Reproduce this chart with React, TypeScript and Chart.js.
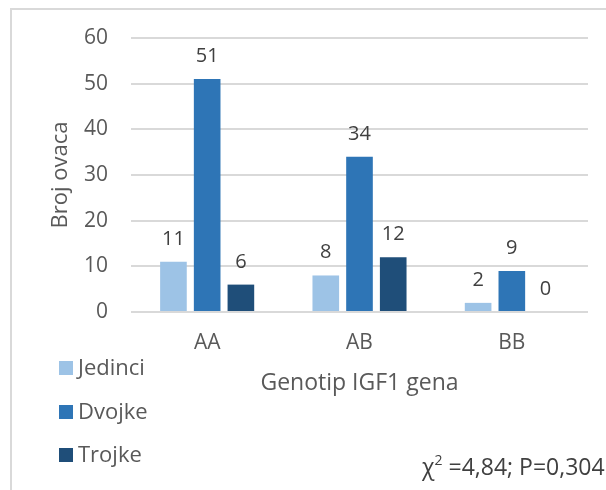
import React, { useEffect, useRef } from "react";
import { Chart, registerables } from "chart.js";

Chart.register(...registerables);

const categories = ["AA", "AB", "BB"];
const seriesNames = ["Jedinci", "Dvojke", "Trojke"];
const jedinci = [11, 8, 2];
const dvojke = [51, 34, 9];
const trojke = [6, 12, 0];
const colors = ["#9DC3E6", "#2E75B6", "#1F4E79"];
const yTicks = [0, 10, 20, 30, 40, 50, 60];
const yTitle = "Broj ovaca";
const xTitle = "Genotip IGF1 gena";
const statText = "=4,84; P=0,304";

const FONT = "'Open Sans', 'Noto Sans', sans-serif";

const decorPlugin = {
  id: "decor",
  beforeDraw(chart: any) {
    const ctx = chart.ctx;
    ctx.save();
    ctx.fillStyle = "#ffffff";
    ctx.fillRect(0, 0, chart.width, chart.height);
    ctx.fillStyle = "#d9d9d9";
    ctx.fillRect(10, 8, chart.width - 10, 2);
    ctx.fillRect(10, 8, 2, chart.height - 8);
    ctx.restore();
  },
  afterDatasetsDraw(chart: any) {
    const ctx = chart.ctx;
    ctx.save();
    ctx.font = `20px ${FONT}`;
    ctx.fillStyle = "#404040";
    ctx.textAlign = "center";
    ctx.textBaseline = "alphabetic";
    chart.data.datasets.forEach((ds: any, i: number) => {
      const meta = chart.getDatasetMeta(i);
      meta.data.forEach((el: any, j: number) => {
        ctx.fillText(String(ds.data[j]), el.x, el.y - 17);
      });
    });
    ctx.restore();
  },
  afterDraw(chart: any) {
    const ctx = chart.ctx;
    const area = chart.chartArea;
    ctx.save();
    ctx.fillStyle = "#595959";
    ctx.font = `22px ${FONT}`;
    ctx.save();
    ctx.translate(67, (area.top + area.bottom) / 2);
    ctx.rotate(-Math.PI / 2);
    ctx.textAlign = "center";
    ctx.textBaseline = "alphabetic";
    ctx.fillText(yTitle, 0, 0);
    ctx.restore();
    ctx.font = `23px ${FONT}`;
    ctx.textAlign = "center";
    ctx.textBaseline = "alphabetic";
    ctx.fillText(xTitle, (area.left + area.right) / 2, 390);
    ctx.font = `22px ${FONT}`;
    const ys = [368, 412, 455];
    seriesNames.forEach((n, i) => {
      ctx.fillStyle = colors[i];
      ctx.fillRect(59, ys[i] - 7, 14, 14);
      ctx.fillStyle = "#595959";
      ctx.textAlign = "left";
      ctx.textBaseline = "middle";
      ctx.fillText(n, 78, ys[i] + 1);
    });
    ctx.fillStyle = "#404040";
    ctx.textAlign = "left";
    ctx.textBaseline = "alphabetic";
    let x = 422;
    ctx.font = `23px ${FONT}`;
    ctx.fillText("χ", x, 475);
    x += ctx.measureText("χ").width;
    ctx.font = `14px ${FONT}`;
    ctx.fillText("2", x, 465);
    x += ctx.measureText("2").width;
    ctx.font = `23px ${FONT}`;
    ctx.fillText(" " + statText, x, 475);
    ctx.restore();
  },
};

export default function App() {
  const ref = useRef<HTMLCanvasElement | null>(null);
  useEffect(() => {
    if (!ref.current) return;
    const chart = new Chart(ref.current, {
      type: "bar",
      data: {
        labels: categories,
        datasets: [
          { label: seriesNames[0], data: jedinci, backgroundColor: colors[0] },
          { label: seriesNames[1], data: dvojke, backgroundColor: colors[1] },
          { label: seriesNames[2], data: trojke, backgroundColor: colors[2] },
        ],
      },
      options: {
        animation: false,
        responsive: false,
        devicePixelRatio: 1,
        datasets: { bar: { categoryPercentage: 0.664, barPercentage: 0.79 } },
        layout: { padding: { top: 38, right: 18, left: 0, bottom: 0 } },
        plugins: { legend: { display: false }, tooltip: { enabled: false } },
        scales: {
          x: {
            grid: { display: false, drawTicks: false },
            border: { display: false },
            ticks: { color: "#595959", font: { family: FONT, size: 21 }, padding: 18 },
            afterFit: (s: any) => { s.height = 178; },
          },
          y: {
            min: 0,
            max: 60,
            afterBuildTicks: (s: any) => { s.ticks = yTicks.map((v) => ({ value: v })); },
            grid: { color: "#d9d9d9", lineWidth: 2, drawTicks: false },
            border: { display: false },
            ticks: { color: "#595959", font: { family: FONT, size: 21 }, padding: 23 },
            afterFit: (s: any) => { s.width = 131; },
          },
        },
      },
      plugins: [decorPlugin],
    });
    return () => chart.destroy();
  }, []);
  return (
    <div style={{ position: "fixed", left: 0, top: 0, width: 606, height: 490 }}>
      <canvas ref={ref} width={606} height={490} style={{ display: "block" }} />
    </div>
  );
}
